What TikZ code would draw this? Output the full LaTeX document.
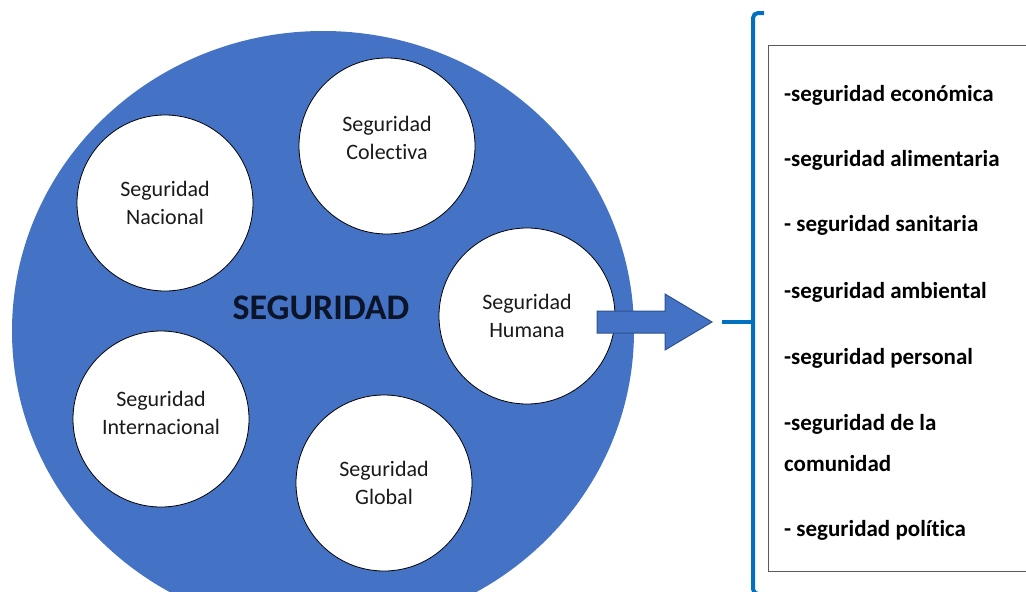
\documentclass[tikz,border=0pt]{standalone}
\usepackage{fontspec}
\setmainfont{Carlito}[Ligatures={NoCommon,NoDiscretionary,NoRare,NoContextual}]
\usetikzlibrary{shapes.geometric}
\definecolor{segblue}{HTML}{4472C4}
\definecolor{segedge}{HTML}{2F528F}
\definecolor{brkblue}{HTML}{0070C0}
\definecolor{segnavy}{HTML}{0B1428}
\definecolor{boxgray}{HTML}{5A5A5A}
\definecolor{circtext}{HTML}{1A1A1A}
\tikzset{
  bigcirc/.style={ellipse, fill=segblue, minimum width=622pt, minimum height=600pt, inner sep=0pt},
  smallcirc/.style={circle, draw=black, line width=0.8pt, fill=white, minimum size=176pt,
    inner sep=0pt, align=center, text=circtext, font=\fontsize{22pt}{28pt}\selectfont},
  circlabel/.style={align=center, text=circtext, font=\fontsize{22pt}{28pt}\selectfont, inner sep=0pt},
  maintitle/.style={font=\bfseries\fontsize{36pt}{40pt}\selectfont, text=segnavy, inner sep=0pt},
  listbox/.style={draw=boxgray, line width=1.3pt, fill=white, inner sep=0pt},
  listitem/.style={anchor=base west, font=\bfseries\fontsize{23pt}{28pt}\selectfont, inner sep=0pt, text=black},
  blockarrow/.style={fill=segblue, draw=segedge, line width=1pt, line join=miter},
  brk/.style={draw=brkblue, line width=4pt},
}
\begin{document}
\begin{tikzpicture}[x=1pt,y=-1pt]
\useasboundingbox (0,0) rectangle (1026,592);
\clip (0,0) rectangle (1026,592);
% big circle
\node[bigcirc] (seg) at (323,331) {};
% small circles
\node[smallcirc, label={[circlabel, yshift=8pt]center:Seguridad\\Colectiva}] (col) at (387,146) {};
\node[smallcirc] (nac) at (165,203) {Seguridad\\Nacional};
\node[smallcirc] (hum) at (527,316) {Seguridad\\Humana};
\node[smallcirc, label={[circlabel, yshift=6pt]center:Seguridad\\Internacional}] (int) at (161,419) {};
\node[smallcirc] (glo) at (384,483) {Seguridad\\Global};
% title
\node[maintitle] (title) at (321,308) {SEGURIDAD};
% block arrow
\coordinate (arrtail) at (597,322);
\coordinate (arrtip) at (712,322);
\draw[blockarrow] (arrtail) ++(0,-11) -- ++(68,0) -- ++(0,-17) -- (arrtip)
  -- ++(-47,28) -- ++(0,-17) -- ++(-68,0) -- cycle;
% bracket
\coordinate (brtop) at (764,13);
\coordinate (brbot) at (764,594);
\coordinate (brmid) at (753,322);
\coordinate (brtick) at (722,322);
\draw[brk, rounded corners=5pt] (brtop) -- (753,13) -- (753,594) -- (brbot);
\draw[brk] (brtick) -- (brmid);
% list box
\node[listbox, anchor=north west, minimum width=280pt, minimum height=526pt] (box) at (768,45) {};
\node[listitem] (l1) at (784,101) {-seguridad económica};
\node[listitem] (l2) at (784,166) {-seguridad alimentaria};
\node[listitem] (l3) at (784,231) {- seguridad sanitaria};
\node[listitem] (l4) at (784,298) {-seguridad ambiental};
\node[listitem] (l5) at (784,364) {-seguridad personal};
\node[listitem] (l6) at (784,430) {-seguridad de la};
\node[listitem] (l7) at (784,471) {comunidad};
\node[listitem] (l8) at (784,536) {- seguridad política};
\end{tikzpicture}
\end{document}
